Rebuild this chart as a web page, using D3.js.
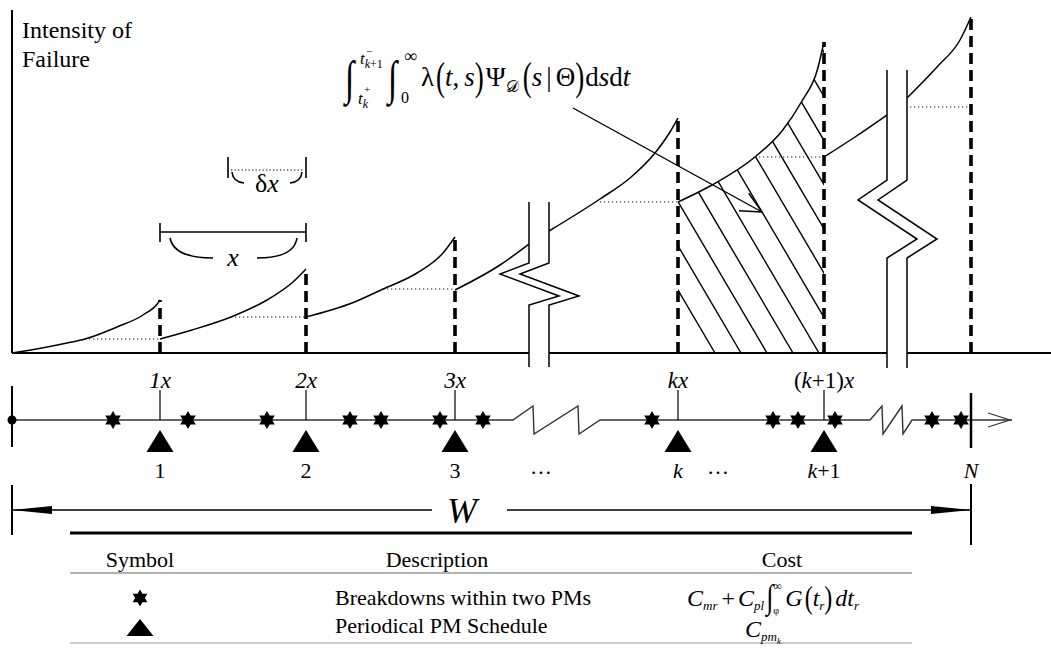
<!DOCTYPE html>
<html><head><meta charset="utf-8">
<script src="https://cdn.jsdelivr.net/npm/d3@7"></script>
<style>
body{margin:0;background:#fff}
svg{display:block}
</style></head><body>
<svg id="chart" width="1051" height="653"></svg>
<script>
/* PM schedule / intensity-of-failure figure.
   Time runs left->right in chart units, intensity bottom->top. Everything on the
   upper panel and the timeline goes through the same x scale. */

// ---- data ----
const pmTimes      = [148, 294, 443, 666, 812, 959];   // 1x, 2x, 3x, kx, (k+1)x, N
const pmPeaks      = [53, 84, 116, 235, 311, 336];     // intensity just before each PM
const resetLevels  = [14, 36, 64, 151, 196, 246];      // intensity right after each PM
const dottedFrom   = [73, 219, 371, 588, 743, 898];    // start of the dotted reset guides
const segments = [                                     // intensity curve, piece by piece
  [[0,0],[30,5],[55,10],[73,14],[105,26],[131,38],[146,50],[148,53]],
  [[148,14],[180,23],[219,36],[255,53],[281,71],[294,84]],
  [[294,36],[340,50],[371,64],[405,80],[431,100],[443,116]],
  [[443,63],[488,88],[517,109]],
  [[537,122],[588,154],[618,175],[643,200],[658,221],[666,235]],
  [[666,151],[700,168],[743,196],[770,222],[790,252],[805,282],[812,311]],
  [[812,196],[843,216],[875,238]],
  [[895,255],[925,286],[948,313],[959,336]]
];
const hatchSegment   = 5;                              // area under (kx, (k+1)x]
const breakdownTimes = [101,176,255,338,369,428,471,640,761,786,823,920,949];
const pmTopLabels    = [[["1x",1]],[["2x",1]],[["3x",1]],[["kx",1]],[["(",0],["k",1],["+1)",0],["x",1]]];
const pmBottomLabels = [[["1",0]],[["2",0]],[["3",0]],[["k",1]],[["k",1],["+1",0]]];
const ellipsisTimes  = [529, 706];
const axisBreaks     = [517, 875];                     // left rail of the two axis breaks (time)
const timelineBreaks = [[501,521,566,588],[858,870,890,900]];
const tableHeader    = ["Symbol","Description","Cost"];
const tableRows      = ["Breakdowns within two PMs","Periodical PM Schedule"];

// ---- scales / layout ----
const FONT = '"Liberation Serif","Times New Roman",Tinos,serif';
const svg = d3.select('#chart').style('font-family', FONT);
const x = d3.scaleLinear().domain([0, 1039]).range([12, 1051]);
const y = d3.scaleLinear().domain([0, 343]).range([353, 10]);
const TL_Y = 420;                                      // timeline baseline

const g = svg.append('g');

// hatched integral area
const clip = svg.append('defs').append('clipPath').attr('id','hatchClip');
const hs = segments[hatchSegment];
clip.append('path').attr('d', d3.area().x(d=>x(d[0])).y0(y(0)).y1(d=>y(d[1])).curve(d3.curveMonotoneX)(hs));
const hatchX0 = d3.range(715, 1040, 26);               // baseline crossings (px)
const SLOPE = 1.7;
g.append('g').attr('clip-path','url(#hatchClip)').selectAll('line').data(hatchX0).join('line')
  .attr('x1', d=>d).attr('y1', y(0)).attr('x2', d=>d-250).attr('y2', y(0)-250*SLOPE)
  .attr('stroke','#000').attr('stroke-width',1.4);

// intensity curve
const line = d3.line().x(d=>x(d[0])).y(d=>y(d[1])).curve(d3.curveMonotoneX);
g.append('g').selectAll('path').data(segments).join('path')
  .attr('d', line).attr('fill','none').attr('stroke','#000').attr('stroke-width',1.5);

// dotted reset guides
g.append('g').selectAll('line').data(pmTimes).join('line')
  .attr('x1',(d,i)=>x(dottedFrom[i])).attr('x2',d=>x(d))
  .attr('y1',(d,i)=>y(resetLevels[i])).attr('y2',(d,i)=>y(resetLevels[i]))
  .attr('stroke','#222').attr('stroke-width',1.1).attr('stroke-dasharray','1.3,2.7');

// dashed PM lines (drawn bottom-up)
g.append('g').selectAll('line').data(pmTimes).join('line')
  .attr('x1',d=>x(d)).attr('x2',d=>x(d)).attr('y1',y(0)).attr('y2',(d,i)=>y(pmPeaks[i]))
  .attr('stroke','#000').attr('stroke-width',3.6).attr('stroke-dasharray','11,6');

// axes
g.append('line').attr('x1',x(0)).attr('x2',x(0)).attr('y1',y(343)).attr('y2',y(0))
  .attr('stroke','#000').attr('stroke-width',2);
g.append('line').attr('x1',x(0)).attr('x2',x(1039)).attr('y1',y(0)).attr('y2',y(0))
  .attr('stroke','#000').attr('stroke-width',2);

// axis breaks: white band between two zig-zag rails
const breakShape = [                                   // [top, corner, left tip, right tip, corner, bottom] in intensity
  [151, 90, 79, 57, 48, -14],
  [283, 173, 153, 114, 95, -15]
];
axisBreaks.forEach((t, i) => {
  const s = breakShape[i];
  const rail = dx => [[t+dx, s[0]],[t+dx, s[1]],[t+dx-29, s[2]],[t+dx+30, s[3]],[t+dx, s[4]],[t+dx, s[5]]];
  const L = rail(0), R = rail(20);
  const pl = d3.line().x(d=>x(d[0])).y(d=>y(d[1]));
  g.append('path').attr('d', pl(L.concat(R.slice().reverse()))+'Z').attr('fill','#fff');
  [L, R].forEach(r => g.append('path').attr('d', pl(r)).attr('fill','none')
    .attr('stroke','#000').attr('stroke-width',1.5));
});

// axis title
const title = g.append('text').attr('font-size',24);
title.append('tspan').attr('x',22).attr('y',38).text('Intensity of');
title.append('tspan').attr('x',22).attr('y',67).text('Failure');

// ---- small typesetting helper: pieces laid out left to right ----
function mathRow(parent, x0, y0, parts, base, anchor) {
  const grp = parent.append('g');
  let cx = 0;
  parts.forEach(p => {
    const size = p.s || base;
    cx += p.dx || 0;
    const t = grp.append('text').attr('font-size', size)
      .attr('font-style', p.i ? 'italic' : null).text(p.t);
    if (p.sy) {
      const c = 0.3*size;
      t.attr('y', c).attr('transform', `translate(${cx},${(p.dy||0)-c}) scale(1,${p.sy})`);
    } else {
      t.attr('x', cx).attr('y', p.dy || 0);
    }
    cx += t.node().getComputedTextLength() + (p.after || 0);
  });
  const off = anchor === 'middle' ? -cx/2 : 0;
  grp.attr('transform', `translate(${x0+off},${y0})`);
  return cx;
}

// integral annotation + pointer
const ann = g.append('g');
mathRow(ann, 345, 90, [{t:'∫', sy:1.4}], 34);
mathRow(ann, 360, 64, [{t:'t',i:1},{t:'k',i:1,s:12,dy:4},{t:'+1',s:12,dy:4}], 17);
mathRow(ann, 366, 55, [{t:'−'}], 11);
mathRow(ann, 358, 104, [{t:'t',i:1},{t:'k',i:1,s:12,dy:4}], 17);
mathRow(ann, 364, 93, [{t:'+'}], 11);
mathRow(ann, 388, 90, [{t:'∫', sy:1.4}], 34);
mathRow(ann, 404, 62, [{t:'∞'}], 18);
mathRow(ann, 401, 103, [{t:'0'}], 16);
mathRow(ann, 421, 86, [
  {t:'λ'},{t:'(',sy:1.45,dx:2},{t:'t',i:1},{t:','},{t:'s',i:1,dx:5},{t:')',sy:1.45},
  {t:'Ψ',dx:2},{t:'𝒟',s:16,dy:6},{t:'(',sy:1.45,dx:4},{t:'s',i:1},{t:'|',dx:4},{t:'Θ',dx:4},
  {t:')',sy:1.45},{t:'d',dx:1},{t:'s',i:1},{t:'d'},{t:'t',i:1}
], 27);
const tip = [762, 212], tail = [573, 108];
ann.append('line').attr('x1',tail[0]).attr('y1',tail[1]).attr('x2',tip[0]).attr('y2',tip[1])
  .attr('stroke','#000').attr('stroke-width',1.4);
const ang = Math.atan2(tip[1]-tail[1], tip[0]-tail[0]);
[-0.45, 0.45].forEach(a => ann.append('line')
  .attr('x1',tip[0]).attr('y1',tip[1])
  .attr('x2',tip[0]-23*Math.cos(ang+a)).attr('y2',tip[1]-23*Math.sin(ang+a))
  .attr('stroke','#000').attr('stroke-width',1.4));

// x and δx interval markers over the 2nd cycle
const brk = g.append('g').attr('stroke','#000').attr('fill','none').attr('stroke-width',1.6);
const xa = x(pmTimes[0]), xb = x(pmTimes[1]), xd = x(pmTimes[1]-78);
brk.append('line').attr('x1',xa).attr('x2',xb).attr('y1',232).attr('y2',232);
[xa, xb].forEach(v => brk.append('line').attr('x1',v).attr('x2',v).attr('y1',223).attr('y2',242));
brk.append('path').attr('d',`M${xa+10},238 Q${xa+14},258 ${xa+53},258`);
brk.append('path').attr('d',`M${xb-49},258 Q${xb-12},258 ${xb-9},238`);
g.append('text').attr('x',(xa+xb)/2).attr('y',266).attr('text-anchor','middle')
  .attr('font-size',26).attr('font-style','italic').text('x');
[xd, xb].forEach(v => brk.append('line').attr('x1',v).attr('x2',v).attr('y1',157).attr('y2',178));
brk.append('line').attr('x1',xd+3).attr('x2',xb-3).attr('y1',170).attr('y2',170)
  .attr('stroke-width',1).attr('stroke-dasharray','1.3,2.2');
brk.append('path').attr('d',`M${xd+4},172 Q${xd+5},182 ${xd+16},183`);
brk.append('path').attr('d',`M${xb-16},183 Q${xb-5},182 ${xb-4},172`);
mathRow(g, (xd+xb)/2, 192, [{t:'δ'},{t:'x',i:1}], 26, 'middle');

// ---- timeline ----
const hexagram = r => {
  const pts = d3.range(12).map(k => {
    const a = -Math.PI/2 + k*Math.PI/6, rr = k%2 ? r/Math.sqrt(3) : r;
    return [rr*Math.cos(a), rr*Math.sin(a)];
  });
  return 'M' + pts.join('L') + 'Z';
};
const tri = (w, h) => `M0,0L${w/2},${h}L${-w/2},${h}Z`;

const tl = g.append('g');
// timeline path with the two saw-tooth breaks
const tlPts = [[0, 0]];
timelineBreaks.forEach(b => {
  tlPts.push([b[0],0],[b[1],-14],[b[1]+1,14],[b[2],-14],[b[2]+1,14],[b[3],0]);
});
tlPts.push([1000, 0]);
tl.append('path').attr('d', d3.line().x(d=>x(d[0])).y(d=>TL_Y+d[1])(tlPts))
  .attr('fill','none').attr('stroke','#333').attr('stroke-width',1.4);
tl.append('path').attr('d',`M${x(976)},${TL_Y-7}L${x(998)},${TL_Y}L${x(976)},${TL_Y+7}`)
  .attr('fill','none').attr('stroke','#333').attr('stroke-width',1.2);
tl.append('line').attr('x1',x(0)).attr('x2',x(0)).attr('y1',386).attr('y2',447)
  .attr('stroke','#000').attr('stroke-width',2);
tl.append('circle').attr('cx',x(0)).attr('cy',TL_Y).attr('r',4.5).attr('fill','#000');
tl.append('line').attr('x1',x(959)).attr('x2',x(959)).attr('y1',393).attr('y2',448)
  .attr('stroke','#000').attr('stroke-width',2.5);

// PM ticks, triangles, labels
const pm = pmTimes.slice(0, 5);
tl.selectAll('line.tick').data(pm).join('line').attr('class','tick')
  .attr('x1',d=>x(d)).attr('x2',d=>x(d)).attr('y1',390).attr('y2',TL_Y)
  .attr('stroke','#000').attr('stroke-width',1.2);
tl.selectAll('path.pm').data(pm).join('path').attr('class','pm')
  .attr('d', tri(27, 22)).attr('transform', d=>`translate(${x(d)},430)`).attr('fill','#000');
tl.selectAll('path.bd').data(breakdownTimes).join('path').attr('class','bd')
  .attr('d', hexagram(9)).attr('transform', d=>`translate(${x(d)},${TL_Y})`).attr('fill','#000');

pmTopLabels.forEach((lab, i) =>
  mathRow(tl, x(pm[i]), 388, lab.map(p => ({t:p[0], i:p[1]})), 23, 'middle'));
pmBottomLabels.forEach((lab, i) =>
  mathRow(tl, x(pm[i]), 478, lab.map(p => ({t:p[0], i:p[1]})), 22, 'middle'));
mathRow(tl, x(959), 478, [{t:'N', i:1}], 22, 'middle');
ellipsisTimes.forEach(t => tl.append('text').attr('x',x(t)).attr('y',474)
  .attr('text-anchor','middle').attr('font-size',22).text('…'));

// W span
const wy = 510;
tl.append('line').attr('x1',x(0)).attr('x2',x(0)).attr('y1',485).attr('y2',535)
  .attr('stroke','#000').attr('stroke-width',2);
tl.append('line').attr('x1',x(959)).attr('x2',x(959)).attr('y1',484).attr('y2',545)
  .attr('stroke','#000').attr('stroke-width',2);
tl.append('line').attr('x1',x(0)).attr('x2',x(420)).attr('y1',wy).attr('y2',wy)
  .attr('stroke','#000').attr('stroke-width',1.3);
tl.append('line').attr('x1',x(495)).attr('x2',x(959)).attr('y1',wy).attr('y2',wy)
  .attr('stroke','#000').attr('stroke-width',1.3);
tl.append('path').attr('d',`M${x(0)},${wy}L${x(0)+40},${wy-4}L${x(0)+40},${wy+4}Z`).attr('fill','#000');
tl.append('path').attr('d',`M${x(959)},${wy}L${x(959)-40},${wy-4}L${x(959)-40},${wy+4}Z`).attr('fill','#000');
tl.append('text').attr('x',x(450)).attr('y',523).attr('text-anchor','middle')
  .attr('font-size',36).attr('font-style','italic').text('W');

// ---- legend table ----
const tb = g.append('g');
const TX0 = 70, TX1 = 912;
const colX = [140, 437, 782];
tb.append('line').attr('x1',TX0).attr('x2',TX1).attr('y1',533).attr('y2',533)
  .attr('stroke','#000').attr('stroke-width',3);
tb.append('line').attr('x1',TX0).attr('x2',TX1).attr('y1',573).attr('y2',573)
  .attr('stroke','#666').attr('stroke-width',1);
tb.append('line').attr('x1',TX0).attr('x2',TX1).attr('y1',643).attr('y2',643)
  .attr('stroke','#999').attr('stroke-width',1);
tb.selectAll('text.h').data(tableHeader).join('text').attr('class','h')
  .attr('x',(d,i)=>colX[i]).attr('y',567).attr('text-anchor','middle').attr('font-size',22).text(d=>d);
tb.selectAll('text.r').data(tableRows).join('text').attr('class','r')
  .attr('x',335).attr('y',(d,i)=>[605,633][i]).attr('font-size',22).text(d=>d);
tb.append('path').attr('d',hexagram(8.5)).attr('transform',`translate(${colX[0]},598)`).attr('fill','#000');
tb.append('path').attr('d',tri(27,17)).attr('transform',`translate(${colX[0]},619)`).attr('fill','#000');
let cc = 687;
cc += mathRow(tb, cc, 606, [
  {t:'C',i:1},{t:'mr',i:1,s:13,dy:4},{t:'+',dx:4,after:3},{t:'C',i:1},{t:'pl',i:1,s:13,dy:4}
], 24) + 2;
cc += mathRow(tb, cc, 606, [{t:'∫', sy:1.3}], 26);
mathRow(tb, cc, 590, [{t:'∞'}], 12);
mathRow(tb, cc, 614, [{t:'φ'}], 10);
mathRow(tb, cc + 12, 606, [
  {t:'G',i:1},{t:'(',sy:1.3,dx:2},{t:'t',i:1},{t:'r',i:1,s:13,dy:4},{t:')',sy:1.3},
  {t:'d',i:1,dx:3},{t:'t',i:1},{t:'r',i:1,s:13,dy:4}
], 24);
mathRow(tb, 745, 637, [{t:'C',i:1},{t:'pm',i:1,s:13,dy:4},{t:'k',i:1,s:9,dy:7}], 24);
</script></body></html>
